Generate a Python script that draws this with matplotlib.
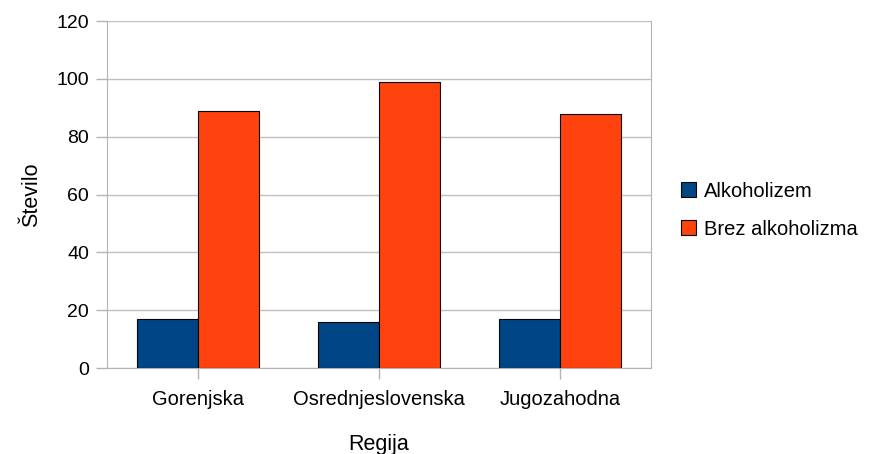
import numpy as np
import matplotlib.pyplot as plt

plt.rcParams['font.family'] = ['Liberation Sans', 'DejaVu Sans']

regije = ['Gorenjska', 'Osrednjeslovenska', 'Jugozahodna']
alkoholizem = [17, 16, 17]
brez_alkoholizma = [89, 99, 88]

fig = plt.figure(figsize=(8.69, 4.54), dpi=100)
ax = fig.add_axes([0.1231, 0.1894, 0.6260, 0.7643])

x = np.arange(len(regije))
w = 0.336
ax.bar(x - w / 2, alkoholizem, w, color='#004586', edgecolor='black',
       linewidth=0.8, label='Alkoholizem', zorder=3)
ax.bar(x + w / 2, brez_alkoholizma, w, color='#ff420e', edgecolor='black',
       linewidth=0.8, label='Brez alkoholizma', zorder=3)

ax.set_xlim(-0.5, 2.5)
ax.set_ylim(0, 120)
ax.set_yticks(range(0, 121, 20))
ax.set_xticks(x)
ax.set_xticklabels(regije)
ax.grid(axis='y', color='#c0c0c0', linewidth=1, zorder=0)
for s in ax.spines.values():
    s.set_color('#b3b3b3')
ax.spines['top'].set_visible(False)
ax.tick_params(axis='both', colors='#b3b3b3', labelcolor='black',
               labelsize=14, length=8, width=1)
ax.tick_params(axis='x', labelsize=14.5)
ax.tick_params(axis='y', pad=5)
ax.tick_params(axis='x', pad=8)

ax.set_ylabel('Število', fontsize=15.5, labelpad=10)
ax.set_xlabel('Regija', fontsize=15.5, labelpad=18)

ax.legend(loc='center left', bbox_to_anchor=(1.036, 0.455), frameon=False,
          fontsize=14.5, handlelength=0.75, handleheight=0.75,
          handletextpad=0.4, labelspacing=0.95, borderpad=0)

fig.savefig('out.png', dpi=100)
